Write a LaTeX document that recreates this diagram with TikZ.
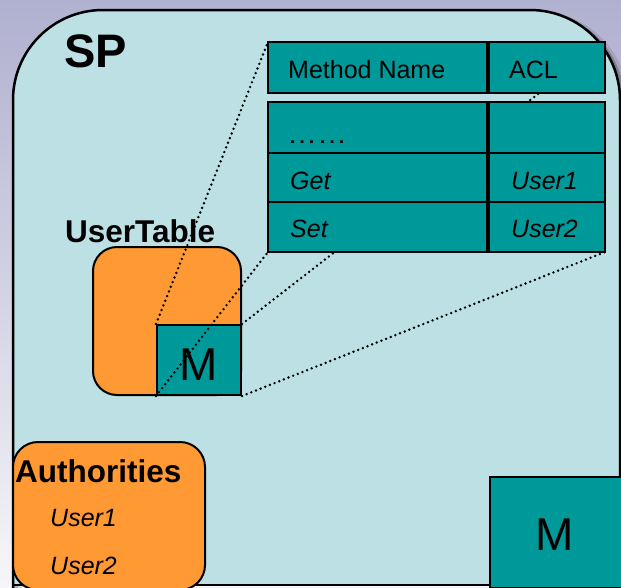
\documentclass[tikz,border=0pt]{standalone}
\usepackage{fontspec}
\setmainfont{Liberation Sans}
\definecolor{bgtop}{RGB}{176,176,208}
\definecolor{bgbot}{RGB}{246,246,250}
\definecolor{spfill}{RGB}{188,224,227}
\definecolor{tealc}{RGB}{0,153,153}
\definecolor{orangec}{RGB}{255,153,51}
\begin{document}
\begin{tikzpicture}[x=1pt,y=-1pt,
  cell/.style={draw=black, line width=2pt, fill=tealc, inner sep=0pt},
  obox/.style={draw=black, line width=2pt, fill=orangec, inner sep=0pt, rounded corners=24pt},
  txt/.style={inner sep=0pt, anchor=base west, font=\fontsize{25}{30}\selectfont},
  itxt/.style={txt, font=\fontsize{25}{30}\selectfont\itshape},
  btxt/.style={inner sep=0pt, anchor=base west, font=\fontsize{31.5}{36}\selectfont\bfseries},
  mtxt/.style={inner sep=0pt, anchor=base, font=\fontsize{46}{52}\selectfont},
  proj/.style={line width=2.7pt, line cap=round, dash pattern=on 0pt off 5pt}]
\useasboundingbox (0,0) rectangle (621,587);
\clip (0,0) rectangle (621,587);

% slide background
\shade[top color=bgtop, bottom color=bgbot] (0,0) rectangle (621,587);

% soft shadow of the SP container
\draw[line width=9pt, black, opacity=0.10, rounded corners=90pt] (18,600) -- (18,15) -- (625,15) -- (625,600);
\draw[line width=4pt, black, opacity=0.22, rounded corners=90pt] (16,600) -- (16,13) -- (623,13) -- (623,600);

% SP container
\fill[spfill, rounded corners=90pt] (13,585) -- (13,10) -- (620,10) -- (620,585);
\draw[line width=2.5pt, rounded corners=90pt] (13,600) -- (13,10) -- (620,10) -- (620,600);
\draw[line width=2.5pt] (13,585) -- (620,585);
\node[inner sep=0pt, anchor=base west, font=\fontsize{47}{52}\selectfont\bfseries] (sp) at (64,67) {SP};

% UserTable with its method table M
\node[btxt] (utlabel) at (65,242) {UserTable};
\node[obox, minimum width=148pt, minimum height=148pt] (utab) at (167,321) {};
\node[cell, minimum width=84pt, minimum height=70pt] (msmall) at (199,360) {};
\node[mtxt] (mlabel) at (199,380) {M};

% Authorities
\node[obox, rounded corners=25pt, minimum width=192pt, minimum height=148pt] (auth) at (109,516) {};
\node[btxt] (authlabel) at (15,482) {Authorities};
\node[itxt] (au1) at (50,526) {User1};
\node[itxt] (au2) at (50,574) {User2};

% second method table M
\node[cell, minimum width=136pt, minimum height=111pt, anchor=north west] (mbig) at (489,476) {};
\node[mtxt] (mbiglabel) at (555,550) {M};

% corners of the expanded table
\coordinate (tTL) at (268,42);
\coordinate (tTR) at (605,42);
\coordinate (tBL) at (268,252);
\coordinate (tBR) at (605,252);

% projection from M to the expanded table (drawn behind the table)
\draw[proj] (msmall.north west) -- (tTL);
\draw[proj] (msmall.south west) -- (tBL);
\draw[proj] (msmall.north east) -- (tTR);
\draw[proj] (msmall.south east) -- (tBR);

% expanded table of M
\node[cell, minimum width=219pt, minimum height=51pt] (hname) at (377.5,67.5) {};
\node[cell, minimum width=116pt, minimum height=51pt] (hacl) at (547,67.5) {};
\node[cell, minimum width=219pt, minimum height=51pt] (r1name) at (377.5,127.5) {};
\node[cell, minimum width=116pt, minimum height=51pt] (r1acl) at (547,127.5) {};
\node[cell, minimum width=219pt, minimum height=49pt] (r2name) at (377.5,177.5) {};
\node[cell, minimum width=116pt, minimum height=49pt] (r2acl) at (547,177.5) {};
\node[cell, minimum width=219pt, minimum height=50pt] (r3name) at (377.5,227) {};
\node[cell, minimum width=116pt, minimum height=50pt] (r3acl) at (547,227) {};

\node[txt] (thname) at (288,78) {Method Name};
\node[txt] (thacl) at (509,78) {ACL};
\node[txt] (tdots) at (287,143) {\scalebox{1.2}[1]{……}};
\node[itxt] (tget) at (290,189) {Get};
\node[itxt] (tgetacl) at (511,189) {User1};
\node[itxt] (tset) at (290,237) {Set};
\node[itxt] (tsetacl) at (511,237) {User2};
\end{tikzpicture}
\end{document}
